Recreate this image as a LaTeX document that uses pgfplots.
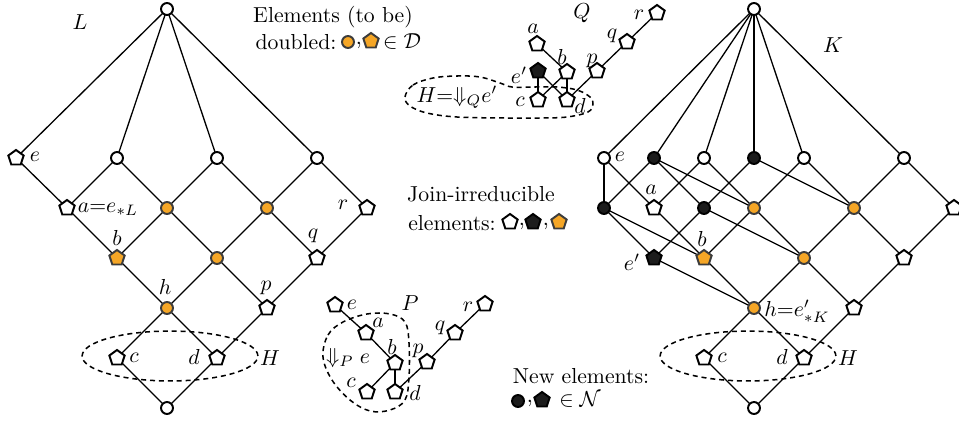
\documentclass[border=0pt]{standalone}
\usepackage{pgfplots}
\pgfplotsset{compat=1.18}
\usetikzlibrary{plotmarks}
\definecolor{orng}{RGB}{245,166,38}
\definecolor{blk}{RGB}{28,28,28}
\definecolor{ogray}{RGB}{60,60,60}
\pgfplotsset{
 edge/.style={black, line width=0.6pt, no marks},
 wc/.style={only marks, mark=*, mark size=2.75pt, mark options={fill=white, draw=black, line width=0.9pt}},
 oc/.style={only marks, mark=*, mark size=2.75pt, mark options={fill=orng, draw=ogray, line width=0.9pt}},
 bc/.style={only marks, mark=*, mark size=2.75pt, mark options={fill=blk, draw=black, line width=0.9pt}},
 wp/.style={only marks, mark=pentagon*, mark size=3.7pt, mark options={fill=white, draw=black, line width=0.9pt}},
 op/.style={only marks, mark=pentagon*, mark size=3.7pt, mark options={fill=orng, draw=ogray, line width=0.9pt}},
 bp/.style={only marks, mark=pentagon*, mark size=3.7pt, mark options={fill=blk, draw=black, line width=0.9pt}},
}
\newcommand{\edge}[4]{\addplot[edge] coordinates {(#1,#2) (#3,#4)};}
\tikzset{dsh/.style={line width=0.7pt, dash pattern=on 2.3pt off 1.8pt}}
\begin{document}
\begin{tikzpicture}
\begin{axis}[
 width=442pt, height=194.5pt, scale only axis,
 xmin=0, xmax=959, ymin=0, ymax=422, y dir=reverse,
 hide axis, clip=false,
]
\coordinate (BBa) at (axis cs:0,0);
\coordinate (BBb) at (axis cs:959,422);
% ---------------- L edges
\edge{16}{158}{167}{9}
\edge{117}{158}{167}{9}
\edge{217}{158}{167}{9}
\edge{317}{158}{167}{9}
\addplot[edge] coordinates {(16,158) (67,208) (117,258) (167,308) (217,358)};
\addplot[edge] coordinates {(117,158) (167,208) (217,258) (267,308)};
\addplot[edge] coordinates {(217,158) (267,208) (317,258)};
\addplot[edge] coordinates {(317,158) (367,208)};
\addplot[edge] coordinates {(117,358) (167,408)};
\addplot[edge] coordinates {(117,158) (67,208)};
\addplot[edge] coordinates {(217,158) (167,208) (117,258)};
\addplot[edge] coordinates {(317,158) (267,208) (217,258) (167,308) (117,358)};
\addplot[edge] coordinates {(367,208) (317,258) (267,308) (217,358) (167,408)};
% ---------------- K edges
\edge{604}{158}{754}{9}
\edge{654}{158}{754}{9}
\edge{704}{158}{754}{9}
\edge{754}{158}{754}{9}
\edge{804}{158}{754}{9}
\edge{904}{158}{754}{9}
\edge{604}{158}{604}{208}
\edge{604}{158}{654}{208}
\edge{654}{158}{604}{208}
\edge{654}{158}{704}{208}
\edge{654}{158}{754}{208}
\edge{704}{158}{654}{208}
\edge{704}{158}{754}{208}
\edge{754}{158}{704}{208}
\edge{754}{158}{854}{208}
\edge{804}{158}{754}{208}
\edge{804}{158}{854}{208}
\edge{904}{158}{854}{208}
\edge{904}{158}{954}{208}
\edge{604}{208}{654}{258}
\edge{604}{208}{704}{258}
\edge{654}{208}{704}{258}
\edge{704}{208}{654}{258}
\edge{704}{208}{804}{258}
\edge{754}{208}{704}{258}
\edge{754}{208}{804}{258}
\edge{854}{208}{804}{258}
\edge{854}{208}{904}{258}
\edge{954}{208}{904}{258}
\edge{654}{258}{754}{308}
\edge{704}{258}{754}{308}
\edge{804}{258}{754}{308}
\edge{804}{258}{854}{308}
\edge{904}{258}{854}{308}
\edge{754}{308}{704}{358}
\edge{754}{308}{804}{358}
\edge{854}{308}{804}{358}
\edge{704}{358}{754}{408}
\edge{804}{358}{754}{408}
% ---------------- Q edges
\edge{537}{44}{567}{72}
\edge{567}{72}{538}{100}
\edge{567}{72}{567}{100}
\edge{538}{71}{538}{100}
\edge{538}{71}{567}{100}
\addplot[edge] coordinates {(567,100) (597,71) (627,42) (657,13)};
% ---------------- P edges
\addplot[edge] coordinates {(335,305) (366,333) (395,363) (367,392)};
\edge{395}{363}{395}{392}
\addplot[edge] coordinates {(395,392) (427,362) (455,333) (485,304)};
% ---------------- dashed regions
\draw[dsh] (axis cs:170,356) ellipse [x radius=40.5pt, y radius=11.5pt];
\draw[dsh] (axis cs:748,356) ellipse [x radius=40.5pt, y radius=11.5pt];
\draw[dsh] plot[smooth cycle, tension=0.6] coordinates {(axis cs:405,97) (axis cs:413,85) (axis cs:433,78) (axis cs:457,76) (axis cs:480,77) (axis cs:500,83) (axis cs:512,87) (axis cs:535,87) (axis cs:557,87) (axis cs:577,90) (axis cs:590,97) (axis cs:593,104) (axis cs:588,112) (axis cs:567,117) (axis cs:540,118) (axis cs:507,118) (axis cs:457,117) (axis cs:427,113) (axis cs:410,106)};
\draw[dsh] plot[smooth cycle, tension=0.6] coordinates {(axis cs:323,357) (axis cs:328,335) (axis cs:343,322) (axis cs:367,314) (axis cs:390,314) (axis cs:405,322) (axis cs:409,343) (axis cs:409,377) (axis cs:405,400) (axis cs:390,410) (axis cs:370,411) (axis cs:350,400) (axis cs:332,380)};
% ---------------- L marks
\addplot[wc] coordinates {(167,9) (117,158) (217,158) (317,158) (167,408)};
\addplot[wp] coordinates {(16,158) (67,208) (367,208) (317,258) (267,308) (117,358) (217,358)};
\addplot[oc] coordinates {(167,208) (267,208) (217,258) (167,308)};
\addplot[op] coordinates {(117,258)};
% ---------------- K marks
\addplot[wc] coordinates {(754,9) (604,158) (704,158) (804,158) (904,158) (754,408)};
\addplot[bc] coordinates {(654,158) (754,158) (604,208) (704,208)};
\addplot[wp] coordinates {(654,208) (954,208) (904,258) (854,308) (704,358) (804,358)};
\addplot[oc] coordinates {(754,208) (854,208) (804,258) (754,308)};
\addplot[op] coordinates {(704,258)};
\addplot[bp] coordinates {(654,258)};
% ---------------- Q marks
\addplot[wp] coordinates {(537,44) (567,72) (538,100) (567,100) (597,71) (627,42) (657,13)};
\addplot[bp] coordinates {(538,71)};
% ---------------- P marks
\addplot[wp] coordinates {(335,305) (366,333) (395,363) (367,392) (395,392) (427,362) (455,333) (485,304)};
% ---------------- legend marks
\addplot[oc] coordinates {(348,42)};
\addplot[op] coordinates {(371,41)};
\addplot[wp] coordinates {(510,222)};
\addplot[bp] coordinates {(533,222)};
\addplot[op] coordinates {(559,222)};
\addplot[bc] coordinates {(518,401)};
\addplot[bp] coordinates {(542,400)};
% ---------------- texts
\node at (axis cs:333,17) {Elements (to be)};
\node at (axis cs:296,42) {doubled:};
\node at (axis cs:359,45) {,};
\node at (axis cs:402,42) {$\in\mathcal{D}$};
\node at (axis cs:481,194) {Join-irreducible};
\node at (axis cs:452,223) {elements:};
\node at (axis cs:522,226) {,};
\node at (axis cs:546,226) {,};
\node at (axis cs:581,376) {New elements:};
\node at (axis cs:530,403) {,};
\node at (axis cs:580,400) {$\in\mathcal{N}$};
% L labels
\node at (axis cs:80,22) {$L$};
\node at (axis cs:35,157) {$e$};
\node at (axis cs:108,209) {$a{=}e_{*L}$};
\node at (axis cs:117,238) {$b$};
\node at (axis cs:165,287) {$h$};
\node at (axis cs:266,288) {$p$};
\node at (axis cs:313,236) {$q$};
\node at (axis cs:343,205) {$r$};
\node at (axis cs:134,358) {$c$};
\node at (axis cs:194,357) {$d$};
\node at (axis cs:270,358) {$H$};
% Q labels
\node at (axis cs:582,13) {$Q$};
\node at (axis cs:533,29) {$a$};
\node at (axis cs:562,57) {$b$};
\node at (axis cs:592,61) {$p$};
\node at (axis cs:612,36) {$q$};
\node at (axis cs:639,15) {$r$};
\node at (axis cs:519,75) {$e'$};
\node at (axis cs:520,102) {$c$};
\node at (axis cs:580,106) {$d$};
\node at (axis cs:457,97) {$H{=}{\Downarrow_Q}e'$};
% P labels
\node at (axis cs:410,303) {$P$};
\node at (axis cs:352,305) {$e$};
\node at (axis cs:378,323) {$a$};
\node at (axis cs:392,347) {$b$};
\node at (axis cs:418,351) {$p$};
\node at (axis cs:440,328) {$q$};
\node at (axis cs:468,307) {$r$};
\node at (axis cs:351,383) {$c$};
\node at (axis cs:415,393) {$d$};
\node at (axis cs:348,358) {$\Downarrow_P e$};
% K labels
\node at (axis cs:833,45) {$K$};
\node at (axis cs:620,157) {$e$};
\node at (axis cs:651,190) {$a$};
\node at (axis cs:632,262) {$e'$};
\node at (axis cs:702,239) {$b$};
\node at (axis cs:797,311) {$h{=}e'_{*K}$};
\node at (axis cs:722,358) {$c$};
\node at (axis cs:782,357) {$d$};
\node at (axis cs:848,358) {$H$};
\end{axis}
\pgfresetboundingbox
\useasboundingbox (BBa) rectangle (BBb);
\end{tikzpicture}
\end{document}
